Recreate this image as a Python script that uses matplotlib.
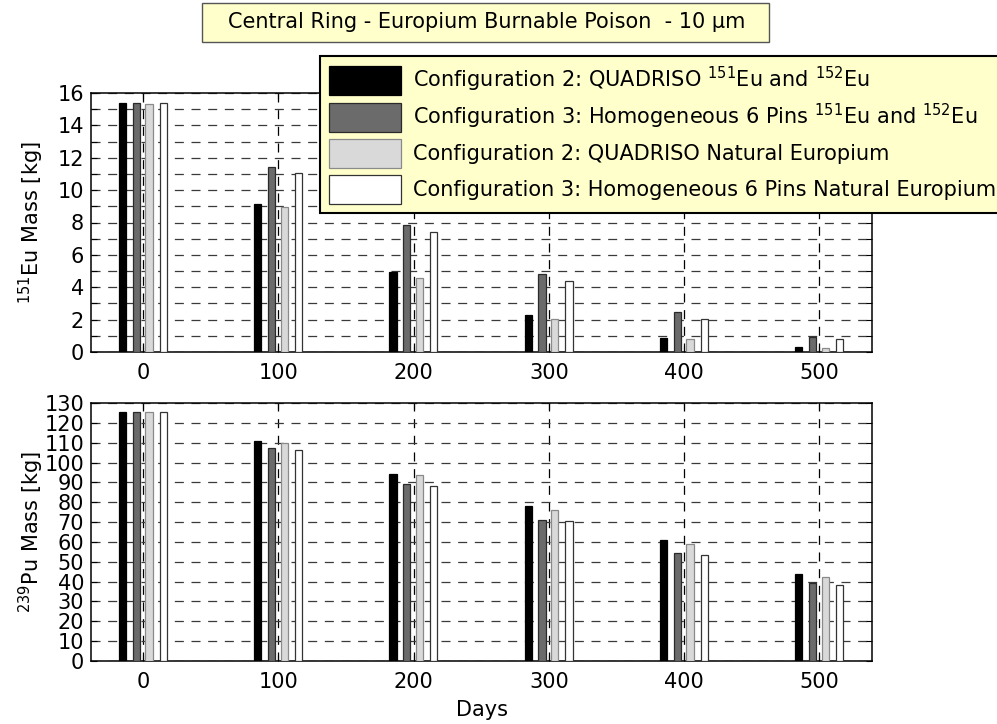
import matplotlib
matplotlib.use("Agg")
import matplotlib.pyplot as plt
from matplotlib.patches import Rectangle
from matplotlib.ticker import MultipleLocator

plt.rcParams['font.family'] = ['DejaVu Sans']
plt.rcParams['mathtext.fontset'] = 'dejavusans'
plt.rcParams['lines.scale_dashes'] = False

# Burnup steps
days = [0, 100, 200, 300, 400, 500]

series_labels = [
    "Configuration 2: QUADRISO $^{151}$Eu and $^{152}$Eu",
    "Configuration 3: Homogeneous 6 Pins $^{151}$Eu and $^{152}$Eu",
    "Configuration 2: QUADRISO Natural Europium",
    "Configuration 3: Homogeneous 6 Pins Natural Europium",
]

# 151Eu mass [kg]
eu151_quadriso_enriched = [15.4, 9.15, 4.95, 2.3, 0.85, 0.3]
eu151_pins_enriched = [15.4, 11.4, 7.85, 4.8, 2.5, 0.95]
eu151_quadriso_natural = [15.3, 8.95, 4.6, 2.05, 0.8, 0.25]
eu151_pins_natural = [15.4, 11.05, 7.4, 4.4, 2.05, 0.8]

# 239Pu mass [kg]
pu239_quadriso_enriched = [125.5, 110.8, 94.4, 78.1, 60.8, 43.7]
pu239_pins_enriched = [125.5, 107.3, 89.0, 70.9, 54.6, 39.1]
pu239_quadriso_natural = [125.5, 109.8, 93.5, 76.2, 59.1, 42.5]
pu239_pins_natural = [125.5, 106.1, 88.0, 70.7, 53.6, 38.1]

eu_series = [eu151_quadriso_enriched, eu151_pins_enriched,
             eu151_quadriso_natural, eu151_pins_natural]
pu_series = [pu239_quadriso_enriched, pu239_pins_enriched,
             pu239_quadriso_natural, pu239_pins_natural]

fills = ['#000000', '#6b6b6b', '#d9d9d9', '#ffffff']
edges = ['#000000', '#2a2a2a', '#8a8a8a', '#333333']
offsets = [-15.2, -5.0, 4.4, 14.9]
bar_w = 5.4

W, H = 997, 724
fig = plt.figure(figsize=(W / 100, H / 100), dpi=100)


def fig_rect(x0, y0, x1, y1):
    return [x0 / W, 1 - y1 / H, (x1 - x0) / W, (y1 - y0) / H]


ax1 = fig.add_axes(fig_rect(91, 93, 872, 352))
ax2 = fig.add_axes(fig_rect(91, 403, 872, 661))

FS = 15


def style_axes(ax, ymax, major, minor):
    ax.set_xlim(-38.5, 539)
    ax.set_ylim(0, ymax)
    ax.set_xticks(days)
    ax.yaxis.set_major_locator(MultipleLocator(major))
    ax.yaxis.set_minor_locator(MultipleLocator(minor))
    ax.set_axisbelow(True)
    ax.grid(True, which='both', axis='y', color='#3a3a3a', lw=0.9,
            linestyle=(0, (6.5, 5.5)))
    ax.grid(True, which='major', axis='x', color='#000000', lw=0.9,
            linestyle=(0, (6.5, 5.5)))
    ax.tick_params(which='both', direction='in', top=True, right=True,
                   labelsize=FS, length=4, width=0.8)
    ax.tick_params(axis='y', pad=5)
    ax.tick_params(axis='x', pad=8)
    for s in ax.spines.values():
        s.set_linewidth(1.1)
        s.set_color('black')


def draw_bars(ax, series):
    handles = []
    for vals, off, fc, ec, lab in zip(series, offsets, fills, edges, series_labels):
        b = ax.bar([d + off for d in days], vals, width=bar_w, color=fc,
                   edgecolor=ec, linewidth=0.9, label=lab, zorder=3)
        handles.append(b)
    return handles


handles = draw_bars(ax1, eu_series)
draw_bars(ax2, pu_series)

style_axes(ax1, 16, 2, 1)
style_axes(ax2, 130, 10, 10)

ax1.set_ylabel("$^{151}$Eu Mass [kg]", fontsize=FS)
ax2.set_ylabel("$^{239}$Pu Mass [kg]", fontsize=FS)
ax1.yaxis.set_label_coords(-0.058, 0.5)
ax2.yaxis.set_label_coords(-0.058, 0.5)
ax2.set_xlabel("Days", fontsize=FS, labelpad=6)

# Legend
leg = fig.legend(handles=handles, labels=series_labels, loc='upper left',
                 bbox_to_anchor=(320 / W, 1 - 56 / H), fontsize=FS,
                 frameon=True, fancybox=False, facecolor='#ffffcc',
                 edgecolor='black', framealpha=1, handlelength=3.46,
                 handleheight=1.81, handletextpad=0.6, labelspacing=0.31,
                 borderpad=0.42, borderaxespad=0)
leg.get_frame().set_linewidth(1.5)

# Title box
fig.patches.append(Rectangle((202 / W, 1 - 42 / H), 567 / W, 39 / H,
                             transform=fig.transFigure, facecolor='#ffffcc',
                             edgecolor='#555555', linewidth=1.0))
fig.text(487 / W, 1 - 22.5 / H,
         "Central Ring - Europium Burnable Poison  - 10 μm",
         ha='center', va='center', fontsize=FS)

fig.savefig("out.png", dpi=100)
